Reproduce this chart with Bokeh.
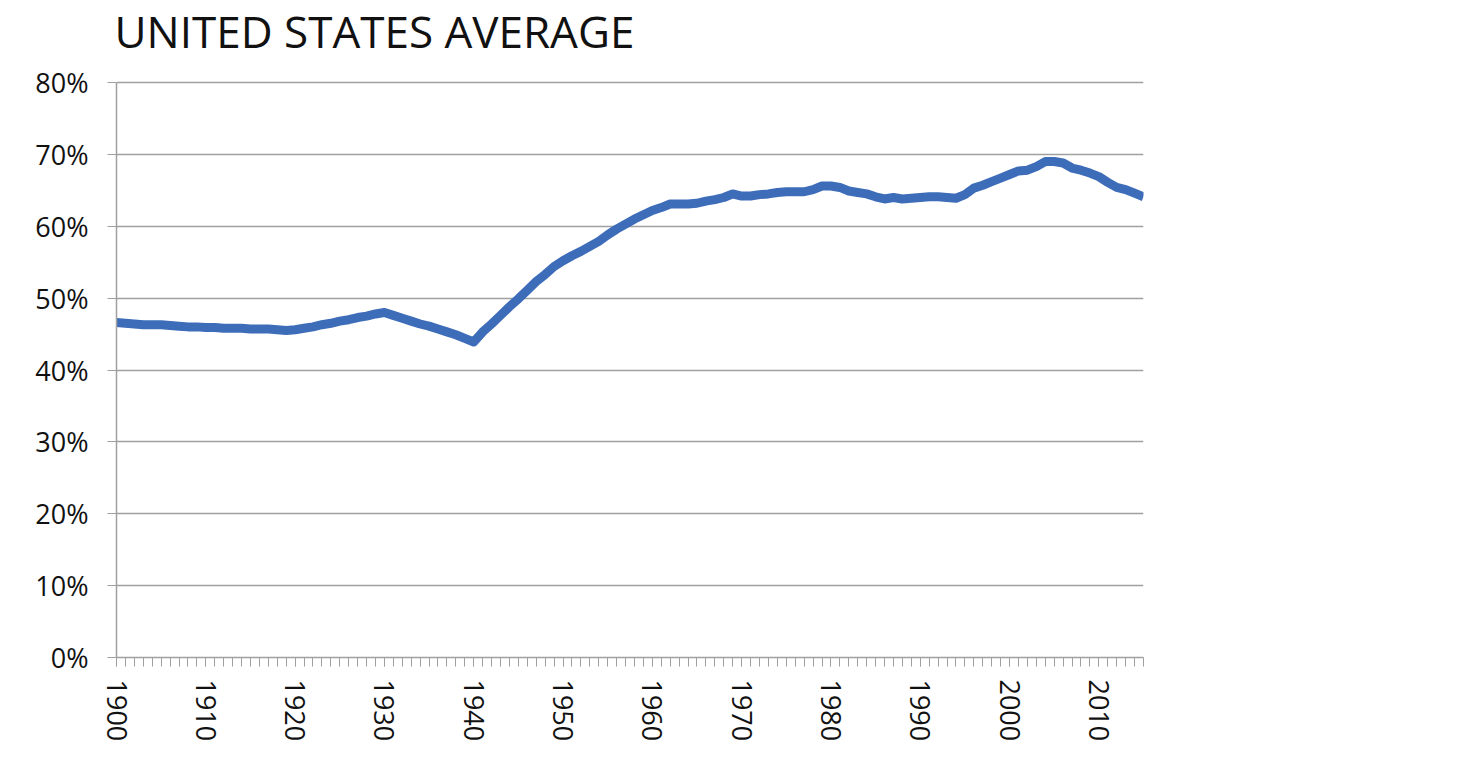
import math
from bokeh.plotting import figure
from bokeh.models import Range1d, FixedTicker, PrintfTickFormatter
from bokeh.core.properties import value
from bokeh.embed import file_html
from bokeh.resources import INLINE

title_text = "UNITED STATES AVERAGE"

years = list(range(1900, 2016))
share = [
    # 1900-1909
    46.6, 46.5, 46.4, 46.3, 46.3, 46.3, 46.2, 46.1, 46.0, 46.0,
    # 1910-1919
    45.9, 45.9, 45.8, 45.8, 45.8, 45.7, 45.7, 45.7, 45.6, 45.5,
    # 1920-1929
    45.6, 45.8, 46.0, 46.3, 46.5, 46.8, 47.0, 47.3, 47.5, 47.8,
    # 1930-1939
    48.0, 47.6, 47.2, 46.8, 46.4, 46.1, 45.7, 45.3, 44.9, 44.4,
    # 1940-1949
    43.9, 45.3, 46.4, 47.6, 48.8, 49.9, 51.1, 52.3, 53.3, 54.4,
    # 1950-1959
    55.2, 55.9, 56.5, 57.2, 57.9, 58.8, 59.6, 60.3, 61.0, 61.6,
    # 1960-1969
    62.2, 62.6, 63.1, 63.1, 63.1, 63.2, 63.5, 63.7, 64.0, 64.5,
    # 1970-1979
    64.2, 64.2, 64.4, 64.5, 64.7, 64.8, 64.8, 64.8, 65.1, 65.6,
    # 1980-1989
    65.6, 65.4, 64.9, 64.7, 64.5, 64.1, 63.8, 64.0, 63.8, 63.9,
    # 1990-1999
    64.0, 64.1, 64.1, 64.0, 63.9, 64.4, 65.3, 65.7, 66.2, 66.7,
    # 2000-2009
    67.2, 67.7, 67.8, 68.3, 69.0, 69.0, 68.8, 68.1, 67.8, 67.4,
    # 2010-2015
    66.9, 66.1, 65.4, 65.1, 64.6, 64.1,
]

decade_ticks = list(range(1900, 2011, 10))
y_ticks = list(range(0, 81, 10))

FONT = "Open Sans"
GRAY = "#a0a0a0"

# Frame extends to the top of the canvas so the heading can sit inside it;
# the axis and the gridlines stop at 80 %.
PLOT_H = 575      # pixels between 0 % and 80 %
TOP_PAD = 82      # pixels above the 80 % line
y_max = y_ticks[-1] * (PLOT_H + TOP_PAD) / PLOT_H

p = figure(
    width=1464, height=748,
    output_backend="svg", toolbar_location=None,
    x_range=Range1d(years[0], years[-1]), y_range=Range1d(0, y_max),
    min_border_left=116, min_border_right=321,
    min_border_top=0, min_border_bottom=91,
)

p.outline_line_color = None
p.xgrid.grid_line_color = None
p.ygrid.grid_line_color = GRAY
p.ygrid.grid_line_width = 1.5

p.xaxis.ticker = FixedTicker(ticks=decade_ticks, minor_ticks=years)
p.xaxis.major_label_orientation = -math.pi / 2
p.xaxis.major_tick_out = 9
p.xaxis.major_tick_in = 0
p.xaxis.minor_tick_out = 9
p.xaxis.minor_tick_in = 0
p.xaxis.minor_tick_line_color = GRAY
p.xaxis.major_tick_line_color = GRAY
p.xaxis.major_label_standoff = 13

p.yaxis.ticker = FixedTicker(ticks=y_ticks)
p.yaxis.bounds = (y_ticks[0], y_ticks[-1])
p.yaxis.formatter = PrintfTickFormatter(format="%d%%")
p.yaxis.major_tick_out = 9
p.yaxis.major_tick_in = 0
p.yaxis.minor_tick_line_color = None
p.yaxis.major_tick_line_color = GRAY
p.yaxis.major_label_standoff = 19

for ax in (p.xaxis, p.yaxis):
    ax.axis_line_color = GRAY
    ax.axis_line_width = 1.5
    ax.major_label_text_font = FONT
    ax.major_label_text_font_size = "27px"
    ax.major_label_text_color = "#111111"

p.line(years, share, line_color="#3d6cb9", line_width=9, line_join="round")

p.text(
    x=[years[0]], y=[y_ticks[-1]], text=[title_text],
    x_offset=-2, y_offset=-52,
    text_font=value(FONT), text_font_size="44px", text_color="#111111",
    text_align="left", text_baseline="alphabetic",
)

open("out.html", "w").write(file_html(p, INLINE))
